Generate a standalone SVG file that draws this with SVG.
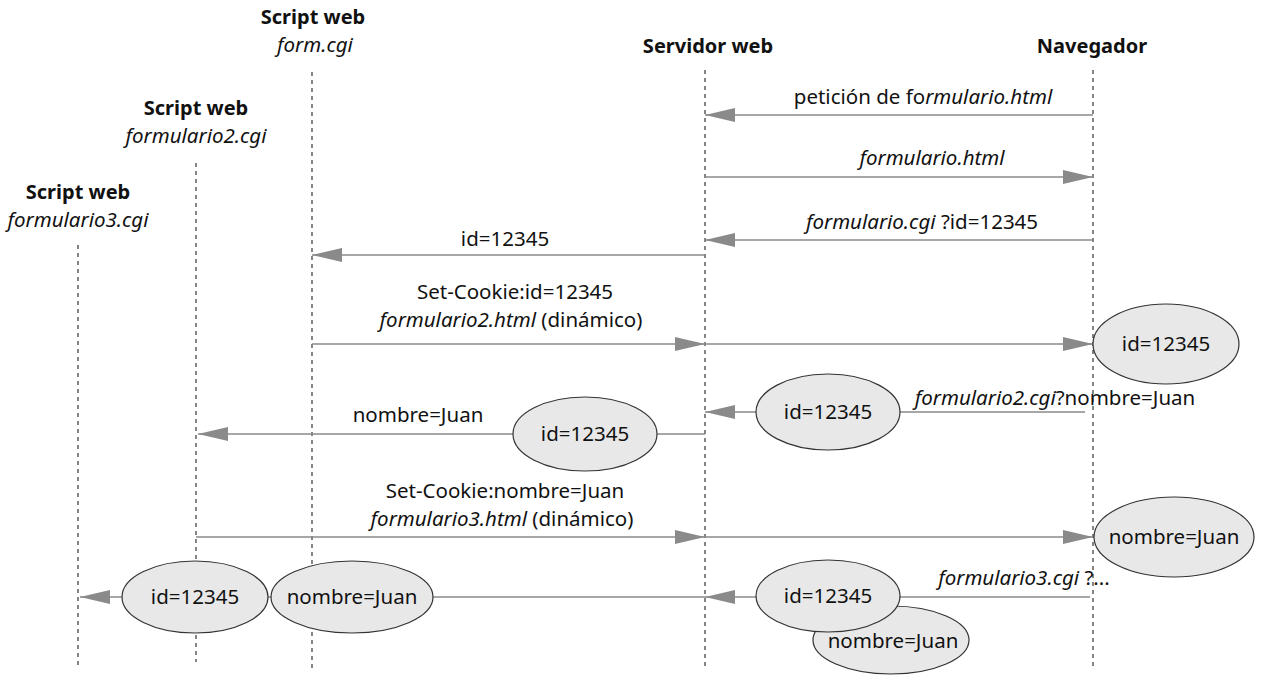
<svg xmlns="http://www.w3.org/2000/svg" width="1264" height="676" viewBox="0 0 1264 676">
  <style>
    text { font-family: "Noto Sans", "Open Sans", "Liberation Sans", sans-serif; fill: #111; font-size: 20.5px; text-anchor: middle; }
    .title { font-weight: bold; font-size: 20px; }
    .it { font-style: italic; }
    .life { stroke: #222; stroke-width: 1.1; stroke-dasharray: 4 4; fill: none; }
    .msg { stroke: #8a8a8a; stroke-width: 1.6; fill: none; }
    .tok { fill: #e8e8e8; stroke: #333; stroke-width: 1.2; }
  </style>
  <defs>
    <marker id="head" markerWidth="30" markerHeight="14" refX="30" refY="7" orient="auto" markerUnits="userSpaceOnUse">
      <path d="M0,0 L30,7 L0,14 Z" fill="#8a8a8a"/>
    </marker>
  </defs>
  <rect width="1264" height="676" fill="#fff"/>

  <!-- participants -->
  <g id="script-form">
    <text class="title" x="313" y="24">Script web</text>
    <text class="it" x="315" y="52">form.cgi</text>
    <line class="life" x1="312" y1="72" x2="312" y2="668"/>
  </g>
  <g id="script-formulario2">
    <text class="title" x="196" y="115">Script web</text>
    <text class="it" x="196" y="143">formulario2.cgi</text>
    <line class="life" x1="196" y1="163" x2="196" y2="662"/>
  </g>
  <g id="script-formulario3">
    <text class="title" x="78" y="199">Script web</text>
    <text class="it" x="78" y="227">formulario3.cgi</text>
    <line class="life" x1="78" y1="245" x2="78" y2="668"/>
  </g>
  <g id="servidor">
    <text class="title" x="708" y="53">Servidor web</text>
    <line class="life" x1="705" y1="70" x2="705" y2="668"/>
  </g>
  <g id="navegador">
    <text class="title" x="1092" y="53">Navegador</text>
    <line class="life" x1="1093" y1="70" x2="1093" y2="668"/>
  </g>

  <!-- messages -->
  <g id="connectors">
    <line class="msg" x1="1093" y1="115" x2="705" y2="115" marker-end="url(#head)"/>
    <line class="msg" x1="705" y1="177" x2="1093" y2="177" marker-end="url(#head)"/>
    <line class="msg" x1="1093" y1="240" x2="705" y2="240" marker-end="url(#head)"/>
    <line class="msg" x1="705" y1="255" x2="312" y2="255" marker-end="url(#head)"/>
    <line class="msg" x1="312" y1="344" x2="705" y2="344" marker-end="url(#head)"/>
    <line class="msg" x1="705" y1="344" x2="1093" y2="344" marker-end="url(#head)"/>
    <line class="msg" x1="1085" y1="412" x2="705" y2="412" marker-end="url(#head)"/>
    <line class="msg" x1="705" y1="434" x2="198" y2="434" marker-end="url(#head)"/>
    <line class="msg" x1="196" y1="537" x2="705" y2="537" marker-end="url(#head)"/>
    <line class="msg" x1="705" y1="537" x2="1093" y2="537" marker-end="url(#head)"/>
    <line class="msg" x1="1090" y1="597" x2="705" y2="597" marker-end="url(#head)"/>
    <line class="msg" x1="705" y1="597" x2="80" y2="597" marker-end="url(#head)"/>
  </g>

  <!-- message labels -->
  <g id="labels">
    <text x="923" y="104">petición de fo<tspan class="it">rmulario.html</tspan></text>
    <text class="it" x="932" y="165">formulario.html</text>
    <text x="922" y="229"><tspan class="it">formulario.cgi</tspan> ?id=12345</text>
    <text x="505" y="246">id=12345</text>
    <text x="515" y="299">Set-Cookie:id=12345</text>
    <text x="511" y="327"><tspan class="it">formulario2.html</tspan> (dinámico)</text>
    <text x="1055" y="405"><tspan class="it">formulario2.cgi</tspan>?nombre=Juan</text>
    <text x="418" y="422">nombre=Juan</text>
    <text x="505" y="498">Set-Cookie:nombre=Juan</text>
    <text x="502" y="526"><tspan class="it">formulario3.html</tspan> (dinámico)</text>
    <text x="1024" y="585"><tspan class="it">formulario3.cgi</tspan> ?...</text>
  </g>

  <!-- cookie tokens -->
  <g id="cookie-nav-id">
    <ellipse class="tok" cx="1166" cy="344" rx="73" ry="40"/>
    <text x="1166" y="351">id=12345</text>
  </g>
  <g id="cookie-req2-id">
    <ellipse class="tok" cx="828" cy="412" rx="72" ry="38"/>
    <text x="828" y="419">id=12345</text>
  </g>
  <g id="cookie-srv2-id">
    <ellipse class="tok" cx="585" cy="434" rx="72" ry="37"/>
    <text x="585" y="441">id=12345</text>
  </g>
  <g id="cookie-nav-nombre">
    <ellipse class="tok" cx="1174" cy="537" rx="80" ry="40"/>
    <text x="1174" y="544">nombre=Juan</text>
  </g>
  <g id="cookie-req3-nombre">
    <ellipse class="tok" cx="891" cy="640" rx="78" ry="34"/>
    <text x="893" y="648">nombre=Juan</text>
  </g>
  <g id="cookie-req3-id">
    <ellipse class="tok" cx="828" cy="596" rx="72" ry="36"/>
    <text x="828" y="603">id=12345</text>
  </g>
  <g id="cookie-srv3-nombre">
    <ellipse class="tok" cx="352" cy="597" rx="81" ry="36"/>
    <text x="352" y="604">nombre=Juan</text>
  </g>
  <g id="cookie-srv3-id">
    <ellipse class="tok" cx="195" cy="597" rx="73" ry="36"/>
    <text x="195" y="604">id=12345</text>
  </g>
</svg>
